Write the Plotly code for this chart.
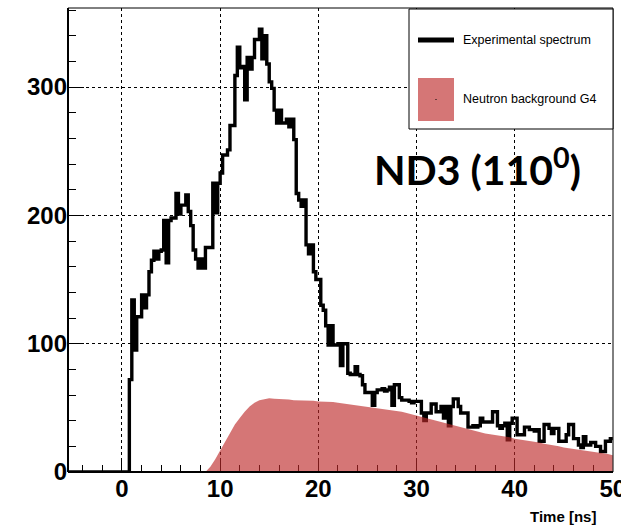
import numpy as np
import plotly.graph_objects as go

# ---------------- data ----------------
# Experimental spectrum: histogram, 0.25 ns bins starting at 0.75 ns (zero before)
exp_first_edge = 0.75
exp_bin_width = 0.25
exp_counts = [
    72, 134, 95, 121, 121, 138, 128, 138, 156, 165, 172, 166, 172, 173, 196, 163,
    196, 198, 198, 217, 201, 208, 208, 216, 203, 192, 173, 166, 159, 166, 159, 175,
    175, 175, 225, 202, 225, 233, 247, 247, 251, 270, 270, 309, 331, 315, 316, 290,
    323, 314, 323, 337, 337, 345, 322, 340, 318, 304, 299, 282, 272, 282, 272, 272,
    275, 269, 275, 259, 217, 212, 207, 212, 177, 170, 177, 156, 150, 150, 130, 126,
    114, 99, 114, 99, 99, 100, 83, 100, 100, 77, 76, 76, 82, 76, 75, 68,
    62, 62, 62, 52, 62, 64, 64, 65, 63, 64, 66, 52, 68, 68, 58, 56,
    56, 56, 55, 54, 55, 55, 55, 46, 40, 46, 46, 53, 53, 47, 47, 51,
    42, 51, 36, 51, 57, 57, 51, 46, 46, 46, 35, 35, 36, 35, 36, 42,
    39, 39, 39, 39, 47, 47, 36, 34, 36, 38, 25, 38, 42, 42, 29, 29,
    29, 35, 35, 33, 33, 32, 33, 24, 24, 37, 37, 34, 30, 34, 34, 24,
    24, 24, 29, 37, 37, 26, 26, 21, 19, 27.5, 21, 21, 23, 23, 20, 20,
    16, 16, 24, 24, 26,
]

# Neutron background (G4 simulation), sampled every 0.5 ns from 8.5 ns
g4_time = [
    8.5, 9.0, 9.5, 10.0, 10.5, 11.0, 11.5, 12.0, 12.5, 13.0, 13.5, 14.0, 14.5, 15.0,
    15.5, 16.0, 16.5, 17.0, 17.5, 18.0, 18.5, 19.0, 19.5, 20.0, 20.5, 21.0, 21.5, 22.0,
    22.5, 23.0, 23.5, 24.0, 24.5, 25.0, 25.5, 26.0, 26.5, 27.0, 27.5, 28.0, 28.5, 29.0,
    29.5, 30.0, 30.5, 31.0, 31.5, 32.0, 32.5, 33.0, 33.5, 34.0, 34.5, 35.0, 35.5, 36.0,
    36.5, 37.0, 37.5, 38.0, 38.5, 39.0, 39.5, 40.0, 40.5, 41.0, 41.5, 42.0, 42.5, 43.0,
    43.5, 44.0, 44.5, 45.0, 45.5, 46.0, 46.5, 47.0, 47.5, 48.0, 48.5, 49.0, 49.5, 50.0,
]
g4_counts = [
    0, 4, 10, 17, 24, 31, 37, 42, 47, 51, 54, 56, 57, 57.5,
    57, 57, 56.5, 56.5, 56, 56, 56, 55.5, 55.5, 55, 55, 55, 54.5, 54,
    53.5, 53, 52.5, 52, 51.5, 51, 50.5, 50, 49.5, 49, 48, 47.5, 47, 46,
    45, 44, 43, 42, 40.5, 39.5, 38.5, 37.5, 36.5, 35.5, 34.5, 33.5, 32.5, 31.5,
    31, 30, 29.5, 29, 28.5, 28, 27, 26, 25.5, 25, 24.5, 24, 23, 22,
    21.5, 21, 20, 19, 18.5, 18, 17.5, 17, 16, 15.5, 15, 14.5, 14, 13,
]

x_range = [-5.5, 50.02]
y_range = [0, 361.6]
x_ticks = [0, 10, 20, 30, 40, 50]
y_ticks = [0, 100, 200, 300]

legend_labels = ["Experimental spectrum", "Neutron background G4"]
annot_text = "ND3 (110<sup>0</sup>)"
x_title = "Time [ns]"

# ---------------- figure ----------------
W, H = 621, 526
ML, MR, MT, MB = 68, 8, 8, 54
PW, PH = W - ML - MR, H - MT - MB


def px(xp):
    return (xp - ML) / PW


def py(yp):
    return (H - MB - yp) / PH


exp_edges = exp_first_edge + exp_bin_width * np.arange(len(exp_counts) + 1)
# hv step arrays: x edges and y values (value held to next edge)
sx = [x_range[0]] + list(exp_edges)
sy = [0] + list(exp_counts) + [exp_counts[-1]]

red = "rgba(190,40,40,0.64)"

fig = go.Figure()
fig.add_trace(go.Scatter(
    x=sx, y=sy, mode="lines", line=dict(color="black", width=3.4, shape="hv"),
    showlegend=False, hoverinfo="skip", cliponaxis=True,
))
fig.add_trace(go.Scatter(
    x=g4_time, y=g4_counts, mode="lines", line=dict(width=0, color=red),
    fill="tozeroy", fillcolor=red, showlegend=False, hoverinfo="skip",
))

axis_font = dict(family="Liberation Sans", size=24, color="black", weight="bold")

fig.update_xaxes(
    range=x_range, tickvals=x_ticks, ticks="inside", ticklen=14, tickwidth=1,
    tickcolor="black", showgrid=True, gridcolor="black", griddash="dot", gridwidth=1,
    zeroline=False, showline=False, layer="below traces", tickfont=axis_font,
    ticklabeloverflow="allow", automargin=False,
    minor=dict(ticks="inside", ticklen=7, dtick=2, tick0=0, tickcolor="black", showgrid=False),
)
fig.update_yaxes(
    range=y_range, tickvals=y_ticks, ticks="inside", ticklen=16, tickwidth=1,
    tickcolor="black", showgrid=True, gridcolor="black", griddash="dot", gridwidth=1,
    zeroline=False, showline=False, layer="below traces", tickfont=axis_font,
    ticklabeloverflow="allow", automargin=False,
    minor=dict(ticks="inside", ticklen=8, dtick=20, tick0=0, tickcolor="black", showgrid=False),
)

shapes = [
    # frame
    dict(type="rect", xref="paper", yref="paper", x0=0, x1=1, y0=0, y1=1,
         line=dict(color="black", width=1), layer="above"),
    dict(type="line", xref="paper", yref="paper", x0=0, x1=0, y0=0, y1=1,
         line=dict(color="black", width=2), layer="above"),
    dict(type="line", xref="paper", yref="paper", x0=0, x1=1, y0=0, y1=0,
         line=dict(color="black", width=2), layer="above"),
    # legend box
    dict(type="rect", xref="paper", yref="paper", x0=px(409), x1=px(613), y0=py(129), y1=py(9),
         line=dict(color="black", width=1), fillcolor="white", layer="above"),
    dict(type="line", xref="paper", yref="paper", x0=px(418), x1=px(454), y0=py(40), y1=py(40),
         line=dict(color="black", width=5), layer="above"),
    dict(type="rect", xref="paper", yref="paper", x0=px(418), x1=px(454), y0=py(121), y1=py(78),
         line=dict(width=0), fillcolor=red, layer="above"),
    dict(type="rect", xref="paper", yref="paper", x0=px(435.5), x1=px(436.5), y0=py(100), y1=py(99),
         line=dict(width=0), fillcolor="black", layer="above"),
]

legend_font = dict(family="Liberation Sans", size=12.5, color="black")
annotations = [
    dict(xref="paper", yref="paper", x=px(461), y=py(40), text=legend_labels[0],
         showarrow=False, xanchor="left", yanchor="middle", font=legend_font),
    dict(xref="paper", yref="paper", x=px(461), y=py(99), text=legend_labels[1],
         showarrow=False, xanchor="left", yanchor="middle", font=legend_font),
    dict(xref="paper", yref="paper", x=px(372), y=py(167), text=annot_text,
         showarrow=False, xanchor="left", yanchor="middle",
         font=dict(family="Lato", size=41, color="black", weight="bold")),
    dict(xref="paper", yref="paper", x=px(598), y=py(516), text=x_title,
         showarrow=False, xanchor="right", yanchor="middle",
         font=dict(family="Liberation Sans", size=15, color="black", weight="bold")),
]

fig.update_layout(
    width=W, height=H, margin=dict(l=ML, r=MR, t=MT, b=MB, pad=0, autoexpand=False),
    paper_bgcolor="white", plot_bgcolor="white",
    shapes=shapes, annotations=annotations, showlegend=False,
)

fig.write_html("out.html")
